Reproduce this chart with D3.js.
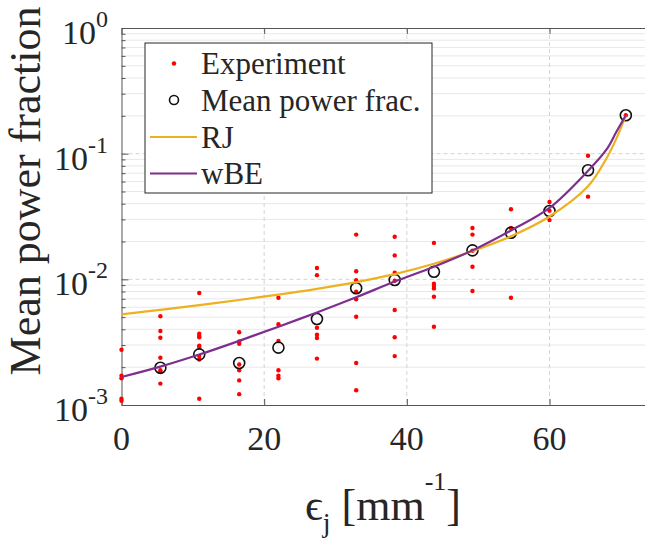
<!DOCTYPE html>
<html lang="en">
<head>
    <meta charset="utf-8">
    <title>Mean power fraction</title>
    <script src="https://d3js.org/d3.v7.min.js"></script>
    <style>
        html, body {
            margin: 0;
            padding: 0;
            background: #fff;
        }
        text {
            font-family: "Liberation Serif", "DejaVu Serif", serif;
            fill: #262626;
        }
    </style>
</head>
<body>
<script type="text/javascript">

    // Data
    var expX = [0, 5.45, 10.9, 16.5, 22, 27.4, 32.9, 38.3, 43.8, 49.2, 54.6, 60, 65.4, 70.7];
    var expVals = [
        [2.75e-3, 1.71e-3, 1.63e-3, 1.12e-3, 1.08e-3],
        [5.08e-3, 3.88e-3, 3.43e-3, 2.38e-3, 1.89e-3, 1.83e-3, 1.48e-3],
        [7.79e-3, 3.69e-3, 3.54e-3, 3.46e-3, 2.96e-3, 2.89e-3, 2.45e-3, 2.3e-3, 1.12e-3],
        [3.79e-3, 3.21e-3, 3.07e-3, 2.1e-3, 1.89e-3, 1.57e-3, 1.22e-3],
        [7.14e-3, 4.39e-3, 3.23e-3, 1.89e-3, 1.71e-3, 1.63e-3],
        [1.23e-2, 1.08e-2, 4.12e-3, 3.63e-3, 3.41e-3, 2.34e-3],
        [2.27e-2, 1.16e-2, 9.83e-3, 7.98e-3, 6.93e-3, 5.04e-3, 2.16e-3, 1.31e-3],
        [2.18e-2, 1.55e-2, 1.13e-2, 9.75e-3, 5.70e-3, 3.46e-3, 2.45e-3],
        [1.95e-2, 9.22e-3, 8.85e-3, 8.47e-3, 7.27e-3, 4.20e-3],
        [2.56e-2, 2.27e-2, 1.69e-2, 1.26e-2, 8.07e-3],
        [3.61e-2, 2.56e-2, 7.14e-3],
        [4.12e-2, 3.52e-2, 2.96e-2],
        [9.63e-2, 4.55e-2],
        [2.02e-1]
    ];

    var meanX = [5.45, 10.9, 16.5, 22, 27.4, 32.9, 38.3, 43.8, 49.2, 54.6, 60, 65.4, 70.7];
    var meanY = [1.98e-3, 2.53e-3, 2.16e-3, 2.86e-3, 4.83e-3, 8.49e-3, 9.89e-3, 1.15e-2, 1.70e-2, 2.35e-2, 3.5e-2, 7.38e-2, 2.02e-1];

    var rjX = [0, 5.45, 10.9, 16.5, 22, 27.4, 32.9, 38.3, 43.8, 49.2, 54.6, 60, 65.4, 68.0, 69.4, 70.7];
    var rjY = [5.27e-3, 5.72e-3, 6.24e-3, 6.85e-3, 7.55e-3, 8.4e-3, 9.5e-3, 1.1e-2, 1.33e-2, 1.68e-2, 2.2e-2, 3.16e-2, 5.5e-2, 9.2e-2, 1.33e-1, 2.02e-1];

    var wbeX = [0, 5.45, 10.9, 16.5, 22, 27.4, 32.9, 38.3, 43.8, 49.2, 54.6, 60, 65.4, 68.0, 69.4, 70.7];
    var wbeY = [1.67e-3, 2.02e-3, 2.52e-3, 3.24e-3, 4.2e-3, 5.45e-3, 7.2e-3, 9.6e-3, 1.26e-2, 1.7e-2, 2.45e-2, 3.7e-2, 7.3e-2, 1.08e-1, 1.5e-1, 2.02e-1];

    var xTicks = [0, 20, 40, 60];
    var yTicks = [1e-3, 1e-2, 1e-1, 1e0];
    var yTickExp = ["-3", "-2", "-1", "0"];

    var legendLabels = ["Experiment", "Mean power frac.", "RJ", "wBE"];

    //Width and height
    var w = 645;
    var h = 541;
    var padL = 121.5, padT = 28, padR = 656.5, padB = 405;

    var xScale = d3.scaleLinear().domain([0, 75]).range([padL, padR]);
    var yScale = d3.scaleLog().domain([1e-3, 1]).range([padB, padT]);

    var svg = d3.select("body")
        .append("svg")
        .attr("width", w)
        .attr("height", h);

    // minor grid
    var minor = [];
    [1e-3, 1e-2, 1e-1].forEach(function(d) {
        for (var k = 2; k <= 9; k++) minor.push(d * k);
    });
    svg.append("g").selectAll("line")
        .data(minor)
        .enter().append("line")
        .attr("x1", padL).attr("x2", padR)
        .attr("y1", d => yScale(d)).attr("y2", d => yScale(d))
        .attr("stroke", "#e8e8e8")
        .attr("stroke-width", 1);

    // major grid
    svg.append("g").selectAll("line")
        .data(yTicks.slice(1, 3))
        .enter().append("line")
        .attr("x1", padL).attr("x2", padR)
        .attr("y1", d => yScale(d)).attr("y2", d => yScale(d))
        .attr("stroke", "#d4d4d4")
        .attr("stroke-dasharray", "4,3");

    svg.append("g").selectAll("line")
        .data(xTicks.slice(1))
        .enter().append("line")
        .attr("x1", d => xScale(d)).attr("x2", d => xScale(d))
        .attr("y1", padT).attr("y2", padB)
        .attr("stroke", "#d4d4d4")
        .attr("stroke-dasharray", "4,3");

    // axes
    var yAxis = d3.axisLeft(yScale)
        .tickValues(yTicks.concat(minor))
        .tickSizeInner(0).tickSizeOuter(0)
        .tickFormat("");
    var gy = svg.append("g")
        .attr("transform", "translate(" + padL + ",0)")
        .call(yAxis);
    gy.selectAll(".tick line")
        .attr("x2", d => yTicks.indexOf(d) >= 0 ? 7 : 4)
        .attr("stroke", "#555");
    gy.select(".domain").attr("stroke", "#555");

    var xAxis = d3.axisBottom(xScale)
        .tickValues(xTicks)
        .tickSizeInner(-6).tickSizeOuter(0)
        .tickFormat("");
    var gx = svg.append("g")
        .attr("transform", "translate(0," + padB + ")")
        .call(xAxis);
    gx.selectAll(".tick line").attr("stroke", "#555");
    gx.select(".domain").attr("stroke", "#555");

    var xTop = d3.axisTop(xScale)
        .tickValues(xTicks)
        .tickSizeInner(-6).tickSizeOuter(0)
        .tickFormat("");
    var gt = svg.append("g")
        .attr("transform", "translate(0," + padT + ")")
        .call(xTop);
    gt.selectAll(".tick line").attr("stroke", "#555");
    gt.select(".domain").attr("stroke", "#555");

    // tick labels
    svg.append("g").selectAll("text")
        .data(xTicks)
        .enter().append("text")
        .attr("x", d => xScale(d))
        .attr("y", padB + 45)
        .attr("text-anchor", "middle")
        .style("font-size", "34px")
        .text(d => d);

    var yl = svg.append("g").selectAll("text")
        .data(yTicks)
        .enter().append("text")
        .attr("x", 108)
        .attr("y", d => yScale(d) + 16)
        .attr("text-anchor", "end")
        .style("font-size", "34px");
    yl.append("tspan").text("10");
    yl.append("tspan")
        .attr("dy", -17)
        .style("font-size", "24px")
        .text((d, i) => yTickExp[i]);

    // experiment points
    var expPts = [];
    expX.forEach(function(x, i) {
        expVals[i].forEach(function(v) { expPts.push({x: x, y: v}); });
    });
    svg.append("g").selectAll("circle")
        .data(expPts)
        .enter().append("circle")
        .attr("cx", d => xScale(d.x))
        .attr("cy", d => yScale(d.y))
        .attr("r", 2.2)
        .attr("fill", "#ff0000");

    // mean circles
    svg.append("g").selectAll("circle")
        .data(meanX)
        .enter().append("circle")
        .attr("cx", d => xScale(d))
        .attr("cy", (d, i) => yScale(meanY[i]))
        .attr("r", 5.5)
        .attr("fill", "none")
        .attr("stroke", "#111")
        .attr("stroke-width", 1.6);

    var line = d3.line()
        .x(d => xScale(d[0]))
        .y(d => yScale(d[1]))
        .curve(d3.curveCatmullRom.alpha(0.5));

    svg.append("path")
        .datum(d3.zip(rjX, rjY))
        .attr("d", line)
        .attr("fill", "none")
        .attr("stroke", "#EDB120")
        .attr("stroke-width", 2.2);

    svg.append("path")
        .datum(d3.zip(wbeX, wbeY))
        .attr("d", line)
        .attr("fill", "none")
        .attr("stroke", "#7E2F8E")
        .attr("stroke-width", 2.2);

    // legend
    var lg = svg.append("g");
    lg.append("rect")
        .attr("x", 145).attr("y", 43)
        .attr("width", 287).attr("height", 150)
        .attr("fill", "#fff")
        .attr("stroke", "#262626")
        .attr("stroke-width", 1);
    var rowY = [63.5, 100, 137, 173.5];
    lg.append("circle").attr("cx", 174).attr("cy", rowY[0]).attr("r", 2.2).attr("fill", "#ff0000");
    lg.append("circle").attr("cx", 174).attr("cy", rowY[1]).attr("r", 4.5)
        .attr("fill", "none").attr("stroke", "#111").attr("stroke-width", 1.6);
    lg.append("line").attr("x1", 150).attr("x2", 197).attr("y1", rowY[2]).attr("y2", rowY[2])
        .attr("stroke", "#EDB120").attr("stroke-width", 2.2);
    lg.append("line").attr("x1", 150).attr("x2", 197).attr("y1", rowY[3]).attr("y2", rowY[3])
        .attr("stroke", "#7E2F8E").attr("stroke-width", 2.2);
    lg.selectAll("text.lab")
        .data(legendLabels)
        .enter().append("text")
        .attr("class", "lab")
        .attr("x", 201)
        .attr("y", (d, i) => rowY[i] + 10.5)
        .style("font-size", "31px")
        .text(d => d);

    // axis labels
    var xl = svg.append("text")
        .attr("x", 383)
        .attr("y", 520)
        .attr("text-anchor", "middle")
        .style("font-size", "44px");
    xl.append("tspan").text("\u03f5");
    xl.append("tspan").attr("dy", 12).style("font-size", "28px").text("j");
    xl.append("tspan").attr("dy", -12).text(" [mm");
    xl.append("tspan").attr("dy", -30).style("font-size", "26px").text("-1");
    xl.append("tspan").attr("dy", 30).text("]");

    svg.append("text")
        .attr("transform", "translate(40,191) rotate(-90)")
        .attr("text-anchor", "middle")
        .style("font-size", "44px")
        .text("Mean power fraction");

</script>
</body>
</html>
